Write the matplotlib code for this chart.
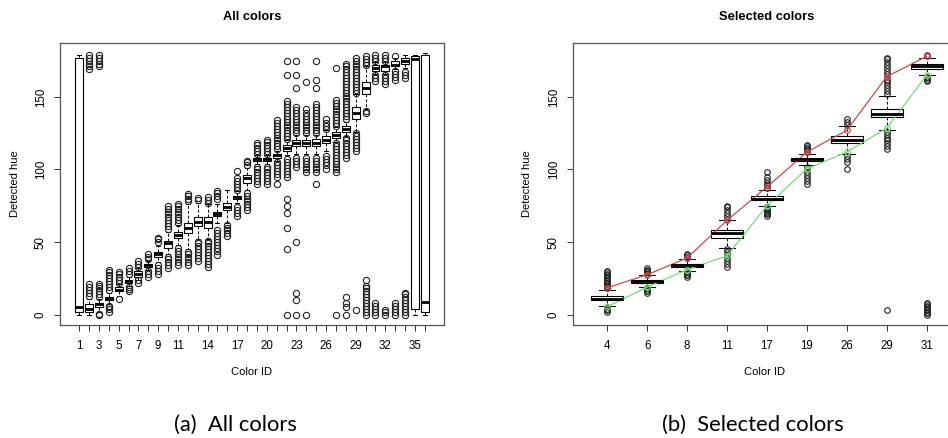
import matplotlib
matplotlib.use("Agg")
import matplotlib.pyplot as plt

# ---- panel (a): all colors, boxes at positions 1..36 ----
all_q1 = [2, 2, 5, 10, 16, 22, 26, 33, 40, 46, 53, 56, 61, 60, 68, 72, 80, 91,
          106, 106, 108, 113, 116, 116, 116, 118, 122, 126, 135, 152, 168, 168, 171, 173, 4, 2]
all_med = [5, 4, 7, 11, 17, 23, 28, 34, 42, 49, 55, 60, 64, 64, 69, 74, 81, 94,
           107, 107, 110, 115, 118, 118, 118, 120, 124, 128, 139, 156, 170, 171, 172, 175, 176, 9]
all_q3 = [177, 7, 8, 12, 19, 24, 30, 35, 43, 51, 57, 63, 67, 67, 71, 77, 82, 96,
          108, 108, 111, 117, 120, 120, 121, 123, 126, 130, 143, 160, 172, 172, 175, 177, 178, 179]
all_lo = [0, 0, 2, 7, 13, 20, 24, 31, 36, 42, 48, 45, 52, 52, 63, 63, 77, 86,
          104, 104, 106, 110, 111, 111, 111, 113, 119, 123, 126, 142, 166, 166, 169, 170, 0, 0]
all_hi = [179, 11, 11, 15, 21, 26, 32, 37, 47, 57, 62, 76, 77, 76, 76, 86, 85, 101,
          110, 110, 113, 120, 124, 124, 124, 127, 129, 133, 152, 171, 174, 174, 177, 179, 179, 180]
all_out = [
    [],
    [13, 15, 17, 19, 21, 169, 171, 173, 175, 177, 179],
    [0, 0.5, 12, 14, 16, 18, 20, 21, 171, 173, 175, 177, 179],
    [2, 3.5, 5, 6, 17, 19, 21, 23, 25, 27, 29, 31],
    [11, 22, 24, 26, 28, 29],
    [16, 17.5, 19, 28, 30, 32],
    [22, 23.5, 33, 35, 37],
    [26, 28, 30, 38, 40, 42],
    [28, 30, 32, 34, 50, 52, 53],
    [32, 34, 36, 38, 40, 59, 61, 63, 65, 67, 69, 71, 73, 75],
    [34, 36, 38, 40, 42, 44, 46, 63, 65, 67, 69, 71, 73, 75, 76],
    [34, 36, 38, 40, 42, 43, 78, 80, 82, 83],
    [37, 39, 41, 43, 45, 47, 49, 50, 79, 80.5],
    [33, 35, 37, 39, 41, 43, 45, 47, 49, 51, 77, 79, 81],
    [41, 44, 46, 48, 50, 52, 54, 56, 58, 80, 82, 84, 85],
    [54, 56, 58, 60, 62],
    [68, 70, 72, 74, 86, 88, 90, 92, 94, 99],
    [72, 74, 76, 78, 80, 82, 84, 103, 105, 106],
    [90, 92, 94, 96, 98, 100, 102, 111, 113, 115, 117, 118],
    [90, 92, 94, 96, 98, 100, 102, 111, 113, 115, 117, 119, 120],
    [90, 95, 97, 99, 101, 103, 105, 114, 116, 118, 120, 122, 124, 126, 128, 130, 132, 134],
    [0, 45, 60, 70, 75, 80, 95, 97, 99, 101, 103, 105, 107,
     121, 123, 125, 127, 129, 131, 133, 135, 137, 139, 141, 143, 145, 147, 165, 175],
    [0, 10, 15, 50, 102, 104, 106, 108,
     125, 127, 129, 131, 133, 135, 137, 139, 141, 143, 156, 165, 175],
    [0, 98, 100, 102, 104, 106, 108, 125, 127, 129, 131, 133, 135, 137, 139, 142, 160],
    [90, 98, 100, 102, 104, 106, 108,
     125, 127, 129, 131, 133, 135, 137, 139, 141, 143, 145, 156, 162, 175],
    [100, 103, 105, 107, 109, 128, 130, 132, 135],
    [0, 98, 100, 102, 104, 106, 108, 110, 112, 114, 116, 118,
     130, 132, 134, 136, 138, 140, 142, 144, 146, 148, 170],
    [0, 5, 8, 12, 108, 110, 112, 114, 116, 118, 120, 122,
     135, 137, 139, 141, 143, 145, 147, 149, 151, 153, 155, 157, 159, 161, 163, 165, 167, 169, 171, 173],
    [3, 113, 115, 117, 119, 121, 123, 125,
     153, 155, 157, 159, 161, 163, 165, 167, 169, 171, 173, 175, 177],
    [0, 2, 4, 6, 8, 10, 12, 14, 16, 18, 20, 24, 139, 140.5, 172, 174, 176, 178],
    [0, 2, 4, 6, 8, 161, 163, 165, 175, 177, 179],
    [0, 1.5, 3, 159, 161, 163, 165, 175, 177, 179],
    [0, 2, 4, 6, 8, 162, 164, 166, 168, 178],
    [0, 2, 4, 6, 8, 10, 12, 14, 15, 163, 165, 167],
    [],
    [],
]
all_ticklabels = ["1", "", "3", "", "5", "", "7", "", "9", "", "11", "", "", "14", "", "",
                  "17", "", "", "20", "", "", "23", "", "", "26", "", "", "29", "", "",
                  "32", "", "", "35", ""]

# ---- panel (b): selected colors ----
sel_ids = ["4", "6", "8", "11", "17", "19", "26", "29", "31"]
sel_q1 = [10, 22, 33, 53, 79, 106, 118, 136, 169]
sel_med = [11, 23, 34, 56, 80, 107, 120, 138, 171]
sel_q3 = [13, 24, 35, 58, 82, 108, 123, 142, 173]
sel_lo = [6, 19, 30, 46, 75, 103, 111, 127, 165]
sel_hi = [17, 27, 38, 65, 86, 111, 130, 151, 177]
sel_out = [
    [2, 3, 4, 5, 18, 19, 20, 21, 22, 23, 24, 25, 26, 27, 28, 29, 30],
    [15, 16, 17, 18, 28, 29, 30, 31, 32],
    [26, 27, 28, 29, 39, 40, 41, 42],
    [33, 35, 37, 39, 41, 43, 45, 66, 68, 70, 72, 74, 75],
    [68, 69, 70, 71, 72, 73, 74, 87, 89, 91, 93, 95, 98],
    [90, 92, 94, 96, 98, 100, 102, 112, 113, 114, 115, 116, 117],
    [100, 105, 107, 109, 131, 133, 135],
    [3, 114, 116, 118, 120, 122, 124, 126, 152, 154, 156, 158, 160, 162,
     164, 166, 168, 170, 172, 174, 176, 177],
    [0, 1, 2, 3, 4, 5, 6, 7, 8, 161, 162, 163, 164, 178, 179],
]
sel_upper = [18.5, 27.5, 39, 65, 88, 112, 127, 164, 178]
sel_lower = [5.5, 19, 31, 40.5, 75, 100.5, 112, 128.5, 165]

W, H = 948, 438
fig = plt.figure(figsize=(W / 100, H / 100), dpi=100)
plt.rcParams['font.family'] = ['Liberation Sans', 'DejaVu Sans']


def stats_of(q1, med, q3, lo, hi, out):
    return [dict(q1=a, med=b, q3=c, whislo=d, whishi=e, fliers=f)
            for a, b, c, d, e, f in zip(q1, med, q3, lo, hi, out)]


def draw(ax, stats, ms):
    n = len(stats)
    pos = list(range(1, n + 1))
    ax.bxp(stats, positions=pos, widths=0.8, capwidths=0.4, patch_artist=True,
           boxprops=dict(facecolor='white', edgecolor='black', linewidth=0.8),
           medianprops=dict(color='black', linewidth=2.0, solid_capstyle='butt'),
           whiskerprops=dict(color='black', linewidth=0.7, linestyle=(0, (3, 2))),
           capprops=dict(color='black', linewidth=0.7),
           flierprops=dict(marker='o', markerfacecolor='none', markeredgecolor='#222222',
                           markersize=ms, markeredgewidth=0.8))
    ext = 0.04 * n
    ax.set_xlim(0.5 - ext, n + 0.5 + ext)
    ax.set_ylim(-7.2, 187.2)
    ax.set_yticks([0, 50, 100, 150])
    ax.set_yticklabels(["0", "50", "100", "150"], rotation=90, va='center', fontsize=8.3)
    for s in ax.spines.values():
        s.set_color('#555555')
        s.set_linewidth(0.9)
    ax.tick_params(direction='out', length=4.5, width=0.7, color='#333333', pad=5, labelsize=8.3)
    ax.tick_params(axis='x', pad=6)


ax1 = fig.add_axes([60 / W, 1 - 325 / H, 384 / W, 282 / H])
draw(ax1, stats_of(all_q1, all_med, all_q3, all_lo, all_hi, all_out), 4.5)
ax1.set_xticks(range(1, 37))
ax1.set_xticklabels(all_ticklabels)

ax2 = fig.add_axes([573 / W, 1 - 325 / H, 388 / W, 282 / H])
draw(ax2, stats_of(sel_q1, sel_med, sel_q3, sel_lo, sel_hi, sel_out), 4.0)
ax2.set_xticks(range(1, 10))
ax2.set_xticklabels(sel_ids)
xs = range(1, 10)
ax2.plot(xs, sel_upper, color='#d04848', lw=0.9, marker='o', ms=4, mfc='none', mew=0.9)
ax2.plot(xs, sel_lower, color='#6ee06e', lw=0.9, marker='o', ms=4, mfc='none', mew=0.9)

# titles and labels as in the R output
fig.text(252 / W, 1 - 17 / H, "All colors", ha='center', va='center', fontsize=9.3, weight='bold')
fig.text(767 / W, 1 - 17 / H, "Selected colors", ha='center', va='center', fontsize=9.3, weight='bold')
fig.text(252 / W, 1 - 372 / H, "Color ID", ha='center', va='center', fontsize=8)
fig.text(765 / W, 1 - 372 / H, "Color ID", ha='center', va='center', fontsize=8)
fig.text(15 / W, 1 - 184 / H, "Detected hue", ha='center', va='center', fontsize=8, rotation=90)
fig.text(527 / W, 1 - 184 / H, "Detected hue", ha='center', va='center', fontsize=8, rotation=90)

# sub-figure captions
fig.text(235 / W, 1 - 425 / H, "(a)  All colors", ha='center', va='center',
         fontsize=15.8, family=['Lato', 'DejaVu Sans'])
fig.text(753 / W, 1 - 425 / H, "(b)  Selected colors", ha='center', va='center',
         fontsize=15.8, family=['Lato', 'DejaVu Sans'])

fig.savefig("out.png", dpi=100, facecolor='white')
